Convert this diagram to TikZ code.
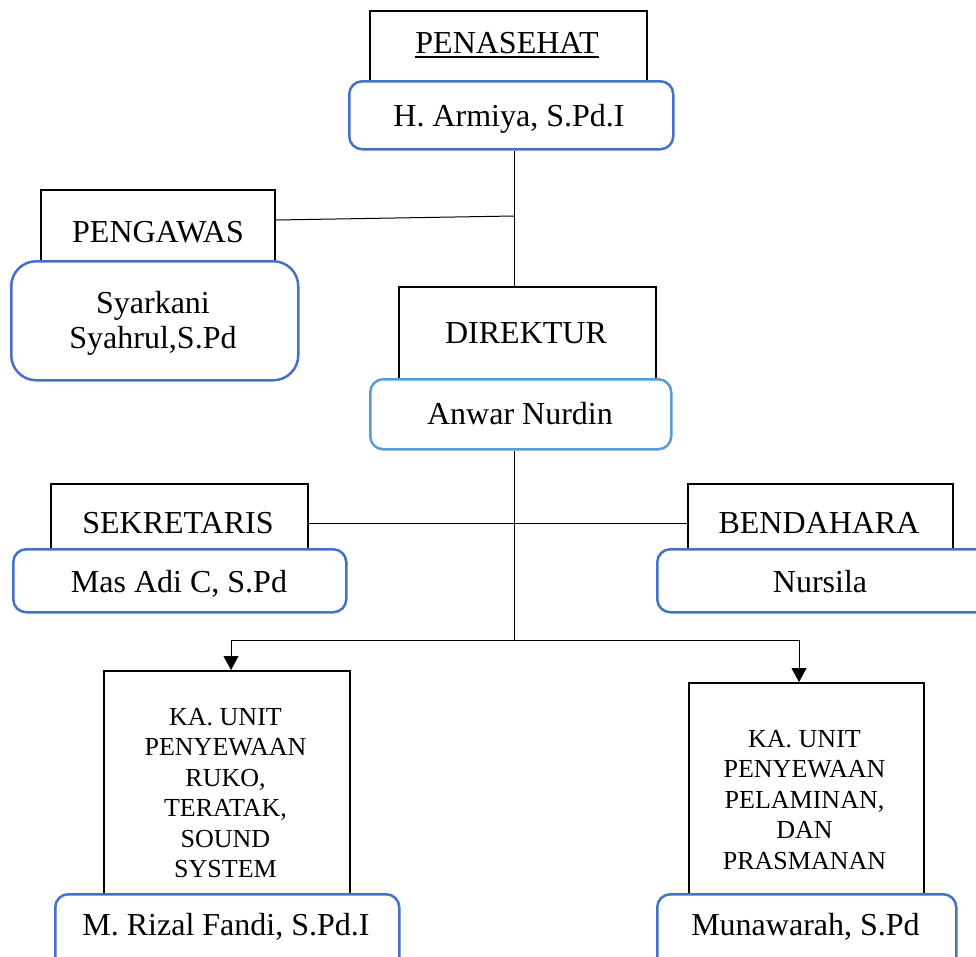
\documentclass[tikz,border=0pt]{standalone}
\usepackage{fontspec}
\setmainfont{Liberation Serif}
\usetikzlibrary{arrows.meta,calc}
\definecolor{bdr}{HTML}{4472C4}
\definecolor{bdrl}{HTML}{5B9BD5}
\begin{document}
\begin{tikzpicture}[x=1pt,y=-1pt,
  blackbox/.style={draw=black,line width=2pt,inner sep=0pt,anchor=north west},
  namebox/.style={draw=bdr,line width=2.5pt,fill=white,rounded corners=13pt,inner sep=0pt,anchor=north west},
  big/.style={font=\fontsize{32}{36}\selectfont,inner sep=0pt,align=center},
  small/.style={font=\fontsize{26}{30.5}\selectfont,inner sep=0pt,align=center},
  conn/.style={line width=1pt},
  arr/.style={conn,-{Triangle[width=15pt,length=14pt]}}]
\fill[white] (0,0) rectangle (976,956);
\useasboundingbox (0,0) rectangle (976,956);

% black title boxes
\node[blackbox,minimum width=277pt,minimum height=100pt] (penB) at (369,10) {};
\node[blackbox,minimum width=234pt,minimum height=100pt] (pengB) at (40,189) {};
\node[blackbox,minimum width=257pt,minimum height=110pt] (dirB) at (398,286) {};
\node[blackbox,minimum width=257pt,minimum height=78pt] (sekB) at (50,483) {};
\node[blackbox,minimum width=265pt,minimum height=78pt] (benB) at (687,483) {};
\node[blackbox,minimum width=246pt,minimum height=250pt] (kaLB) at (103,670) {};
\node[blackbox,minimum width=235pt,minimum height=240pt] (kaRB) at (688,682) {};

% name boxes
\node[namebox,minimum width=324pt,minimum height=68pt] (armiya) at (348,80) {};
\node[namebox,rounded corners=25pt,minimum width=287pt,minimum height=119pt] (pengN) at (10,260) {};
\node[namebox,draw=bdrl,minimum width=301pt,minimum height=70pt] (anwar) at (369,378) {};
\node[namebox,minimum width=333pt,minimum height=63pt] (sekN) at (12,548) {};
\node[namebox,minimum width=340pt,minimum height=63pt] (benN) at (656,548) {};
\node[namebox,minimum width=344pt,minimum height=90pt] (kaLN) at (54,893) {};
\node[namebox,minimum width=299pt,minimum height=90pt] (kaRN) at (656,893) {};

% connectors
\coordinate (jp) at (514,216);
\coordinate (jb) at (514,640);
\draw[conn] (armiya.south -| jb) -- (dirB.north -| jb);
\draw[conn] ($(pengB.north east)+(0,31)$) -- (jp);
\draw[conn] (anwar.south -| jb) -- (jb);
\draw[conn] (sekB.east) -- (benB.west);
\draw[arr] (jb) -| ($(kaLB.north)+(4,0)$);
\draw[arr] (jb) -| ($(kaRB.north)+(-7.5,0)$);

% texts
\node[big,anchor=base] (penT) at (507,53) {PENASEHAT};
\draw[line width=1.5pt] ($(penT.base west)+(0,4)$) -- ($(penT.base east)+(0,4)$);
\node[big,anchor=base] (armT) at (509,126) {H. Armiya, S.Pd.I};
\node[big,anchor=base] (pengT) at (158,242) {PENGAWAS};
\node[big,anchor=base] (pengN1) at (153,313) {Syarkani};
\node[big,anchor=base] (pengN2) at (153,348) {Syahrul,S.Pd};
\node[big,anchor=base] (dirT) at (526,343) {DIREKTUR};
\node[big,anchor=base] (anwT) at (520,424) {Anwar Nurdin};
\node[big,anchor=base] (sekT) at (178,533) {SEKRETARIS};
\node[big,anchor=base] (sekNT) at (179,592) {Mas Adi C, S.Pd};
\node[big,anchor=base] (benT) at (819,533) {BENDAHARA};
\node[big,anchor=base] (benNT) at (820,592) {Nursila};
\node[small] (kaLT) at (225.5,793) {KA. UNIT\\PENYEWAAN\\RUKO,\\TERATAK,\\SOUND\\SYSTEM};
\node[small] (kaRT) at (804.5,800) {KA. UNIT\\PENYEWAAN\\PELAMINAN,\\DAN\\PRASMANAN};
\node[big,anchor=base] (kaLNT) at (226,935) {M. Rizal Fandi, S.Pd.I};
\node[big,anchor=base] (kaRNT) at (805.5,935) {Munawarah, S.Pd};
\end{tikzpicture}
\end{document}
